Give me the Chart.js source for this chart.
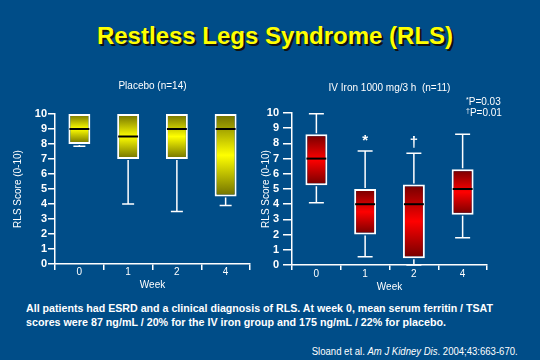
<!DOCTYPE html>
<html><head><meta charset="utf-8">
<script src="https://cdn.jsdelivr.net/npm/chart.js@4.4.1/dist/chart.umd.min.js"></script>
<style>
html,body{margin:0;padding:0;}
body{width:540px;height:360px;background:#004D88;overflow:hidden;font-family:"Liberation Sans",Arial,sans-serif;color:#fff;}
#wrap{position:relative;width:540px;height:360px;}
canvas{position:absolute;top:0;}
#c1{left:0;}
#c2{left:250px;}
.t{position:absolute;white-space:nowrap;}
#title{left:5px;width:540px;text-align:center;top:22px;font-size:24px;line-height:28px;font-weight:bold;color:#ffff00;text-shadow:2px 2px 0 #111;}
.pv{left:466px;font-size:10px;line-height:12px;}
.pv sup{font-size:7px;vertical-align:3px;line-height:0;}
.fn{left:26px;font-size:11px;line-height:14px;font-weight:bold;transform-origin:0 50%;}
#cite{right:22px;top:346px;font-size:10px;line-height:12px;transform-origin:100% 50%;}
</style>
</head><body>
<div id="wrap">
  <div class="t" id="title">Restless Legs Syndrome (RLS)</div>
  <canvas id="c1" width="262" height="300"></canvas>
  <canvas id="c2" width="290" height="300"></canvas>
  <div class="t pv" style="top:96px"><sup>*</sup>P=0.03</div>
  <div class="t pv" style="top:107px"><sup>†</sup>P=0.01</div>
  <div class="t fn" id="fn1" style="top:301px">All patients had ESRD and a clinical diagnosis of RLS. At week 0, mean serum ferritin / TSAT</div>
  <div class="t fn" id="fn2" style="top:315px">scores were 87 ng/mL / 20% for the IV iron group and 175 ng/mL / 22% for placebo.</div>
  <div class="t" id="cite">Sloand et al. <i>Am J Kidney Dis</i>. 2004;43:663-670.</div>
</div>
<script>
// ---- data ----
const weeks = ['0', '1', '2', '4'];
const yMin = 0, yMax = 10, yStep = 1;

const placeboMin    = [7.85, 4.0, 3.5, 3.9];
const placeboQ1     = [8.0, 7.0, 7.0, 4.5];
const placeboMedian = [9.0, 8.5, 9.0, 9.0];
const placeboQ3     = [10, 10, 10, 10];
const placeboMax    = [10, 10, 10, 10];

const ironMin    = [4.1, 0.55, 0.0, 1.8];
const ironQ1     = [5.25, 2.0, 0.45, 3.3];
const ironMedian = [7.0, 4.0, 4.0, 5.0];
const ironQ3     = [8.6, 5.0, 5.3, 6.3];
const ironMax    = [9.95, 7.5, 7.35, 8.6];
const ironMarks  = ['', '*', '†', ''];
const placeboMarks = ['', '', '', ''];

// ---- helpers ----
function boxGradient(dark, bright, lows, highs) {
  return function (ctx) {
    const chart = ctx.chart, y = chart.scales && chart.scales.y;
    if (!chart.chartArea || !y) return bright;
    const i = ctx.dataIndex;
    const top = y.getPixelForValue(highs[i]), bot = y.getPixelForValue(lows[i]);
    if (!isFinite(top) || !isFinite(bot) || top === bot) return bright;
    const g = chart.ctx.createLinearGradient(0, top, 0, bot);
    g.addColorStop(0, dark);
    g.addColorStop(0.5, bright);
    g.addColorStop(1, dark);
    return g;
  };
}

function whiskerPlugin(id, mins, q1s, meds, q3s, maxs, capW, marks) {
  return {
    id,
    afterDatasetsDraw(chart) {
      const meta = chart.getDatasetMeta(0), y = chart.scales.y, c = chart.ctx;
      c.save();
      meta.data.forEach((bar, i) => {
        const x = bar.x, w = bar.width;
        const pMin = y.getPixelForValue(mins[i]), pQ1 = y.getPixelForValue(q1s[i]);
        const pQ3 = y.getPixelForValue(q3s[i]), pMax = y.getPixelForValue(maxs[i]);
        const pMed = y.getPixelForValue(meds[i]);
        c.strokeStyle = '#ffffff';
        c.lineWidth = 1.5;
        c.beginPath();
        if (mins[i] < q1s[i]) {
          c.moveTo(x, pQ1 + 1); c.lineTo(x, pMin);
          c.moveTo(x - capW / 2, pMin); c.lineTo(x + capW / 2, pMin);
        }
        if (maxs[i] > q3s[i]) {
          c.moveTo(x, pQ3 - 1); c.lineTo(x, pMax);
          c.moveTo(x - capW / 2, pMax); c.lineTo(x + capW / 2, pMax);
        }
        c.stroke();
        c.strokeStyle = '#000000';
        c.lineWidth = 2;
        c.beginPath();
        c.moveTo(x - w / 2 + 1, pMed); c.lineTo(x + w / 2 - 1, pMed);
        c.stroke();
        if (marks[i]) {
          c.fillStyle = '#ffffff';
          c.font = 'bold 15px "Liberation Sans", Arial, sans-serif';
          c.textAlign = 'center';
          c.textBaseline = 'middle';
          c.fillText(marks[i], x, pMax - 10);
        }
      });
      c.restore();
    }
  };
}

const FONT = '"Liberation Sans", Arial, sans-serif';

function makeChart(canvasId, o) {
  return new Chart(document.getElementById(canvasId), {
    type: 'bar',
    data: {
      labels: weeks,
      datasets: [{
        data: weeks.map((w, i) => [o.q1[i], o.q3[i]]),
        backgroundColor: boxGradient(o.dark, o.bright, o.q1, o.q3),
        borderColor: '#ffffff',
        borderWidth: 2,
        borderSkipped: false,
        barPercentage: 0.45,
        categoryPercentage: 1.0
      }]
    },
    options: {
      responsive: false,
      animation: false,
      events: [],
      layout: { padding: o.padding },
      plugins: {
        legend: { display: false },
        tooltip: { enabled: false },
        title: {
          display: true, text: o.title, fullSize: false, color: '#ffffff',
          font: { family: FONT, size: 10, weight: 'normal' },
          padding: o.titlePad
        }
      },
      scales: {
        x: {
          offset: true,
          grid: { offset: true, drawOnChartArea: false, drawTicks: true, tickLength: o.xTick, color: '#ffffff', lineWidth: 1.5 },
          border: { display: true, color: '#ffffff', width: 1.5 },
          ticks: { color: '#ffffff', font: { family: FONT, size: 10 }, padding: o.xTickPad },
          title: { display: true, text: 'Week', color: '#ffffff', font: { family: FONT, size: 10 }, padding: { top: 0, bottom: 0 } },
          afterFit(s) { s.height = o.xHeight; }
        },
        y: {
          min: yMin, max: yMax,
          grid: { drawOnChartArea: false, drawTicks: true, tickLength: o.yTick, color: '#ffffff', lineWidth: 1.5 },
          border: { display: true, color: '#ffffff', width: 1.5 },
          ticks: { stepSize: yStep, autoSkip: false, color: '#ffffff', font: { family: FONT, size: 11, weight: 'bold' }, padding: o.yTickPad },
          title: { display: true, text: 'RLS Score (0-10)', color: '#ffffff', font: { family: FONT, size: 10 }, padding: { top: o.yTitlePad, bottom: 0 } },
          afterFit(s) { s.width = o.yWidth; }
        }
      }
    },
    plugins: [whiskerPlugin(canvasId + 'w', o.min, o.q1, o.med, o.q3, o.max, o.capW, o.marks)]
  });
}

makeChart('c1', {
  title: 'Placebo (n=14)',
  q1: placeboQ1, q3: placeboQ3, min: placeboMin, max: placeboMax, med: placeboMedian, marks: placeboMarks,
  dark: '#6e6e00', bright: '#ffff00',
  padding: { left: 0, right: 12, top: 0, bottom: 9 },
  titlePad: { top: 80, bottom: 22 },
  xTick: 6, xTickPad: -4, xHeight: 27,
  yTick: 7, yTickPad: 1, yWidth: 55, yTitlePad: 12,
  capW: 12
});

makeChart('c2', {
  title: 'IV Iron 1000 mg/3 h  (n=11)',
  q1: ironQ1, q3: ironQ3, min: ironMin, max: ironMax, med: ironMedian, marks: ironMarks,
  dark: '#720000', bright: '#ff0000',
  padding: { left: 0, right: 53, top: 0, bottom: 7 },
  titlePad: { top: 82, bottom: 19 },
  xTick: 5, xTickPad: -2, xHeight: 28,
  yTick: 9, yTickPad: 4, yWidth: 42, yTitlePad: 10,
  capW: 15
});

// fit footnote/citation text widths to the reference layout
function fit(id, target) {
  const el = document.getElementById(id);
  const w = el.getBoundingClientRect().width;
  if (w > 0) el.style.transform = 'scaleX(' + (target / w) + ')';
}
fit('fn1', 467);
fit('fn2', 420);
fit('cite', 206);
</script>
</body></html>
